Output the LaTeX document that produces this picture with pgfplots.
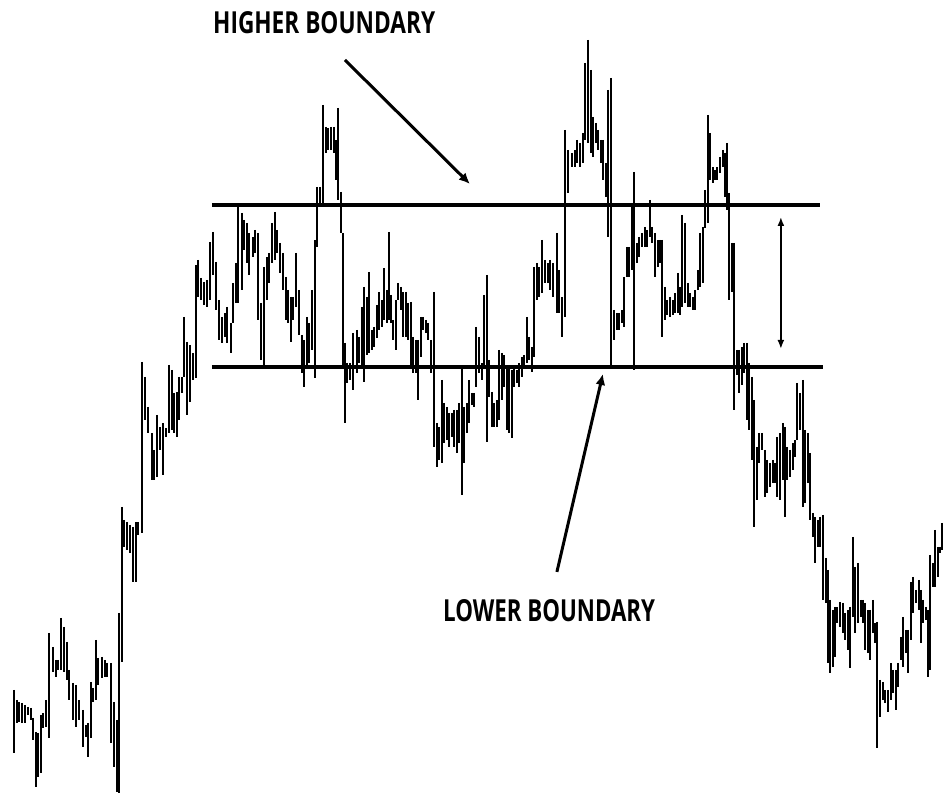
\documentclass[border=0pt]{standalone}
\usepackage{pgfplots}
\pgfplotsset{compat=1.18}
\usepackage{fontspec}
\setmainfont{Open Sans}
\usetikzlibrary{arrows.meta}
\begin{document}
\begin{tikzpicture}
\begin{axis}[width=943pt,height=793pt,scale only axis,
  xmin=0,xmax=943,ymin=0,ymax=793,y dir=reverse,hide axis,clip=false]
\path (rel axis cs:0,0) rectangle (rel axis cs:1,1);
% OHLC bars: x, high, low (pixel units, y downward)
\addplot[black,line width=2.3pt,unbounded coords=jump] coordinates {
(14,690)(14,753)(14,nan)
(17,700)(17,723)(17,nan)
(19,702)(19,722)(19,nan)
(22,703)(22,723)(22,nan)
(25,705)(25,723)(25,nan)
(28,707)(28,715)(28,nan)
(31,708)(31,720)(31,nan)
(33,718)(33,740)(33,nan)
(36,732)(36,787)(36,nan)
(38,733)(38,777)(38,nan)
(41,715)(41,773)(41,nan)
(43,713)(43,728)(43,nan)
(46,700)(46,727)(46,nan)
(49,633)(49,738)(49,nan)
(53,647)(53,672)(53,nan)
(56,660)(56,677)(56,nan)
(58,660)(58,670)(58,nan)
(61,618)(61,670)(61,nan)
(64,627)(64,672)(64,nan)
(67,642)(67,680)(67,nan)
(69,670)(69,700)(69,nan)
(73,683)(73,720)(73,nan)
(76,685)(76,727)(76,nan)
(79,700)(79,720)(79,nan)
(83,710)(83,747)(83,nan)
(86,725)(86,737)(86,nan)
(88,723)(88,757)(88,nan)
(91,682)(91,738)(91,nan)
(93,688)(93,702)(93,nan)
(96,640)(96,700)(96,nan)
(98,658)(98,685)(98,nan)
(102,657)(102,678)(102,nan)
(105,660)(105,677)(105,nan)
(107,663)(107,677)(107,nan)
(111,663)(111,743)(111,nan)
(114,702)(114,767)(114,nan)
(117,720)(117,792)(117,nan)
(119,613)(119,793)(119,nan)
(122,507)(122,662)(122,nan)
(124,520)(124,547)(124,nan)
(127,522)(127,550)(127,nan)
(130,525)(130,553)(130,nan)
(133,527)(133,582)(133,nan)
(136,522)(136,582)(136,nan)
(138,522)(138,535)(138,nan)
(142,362)(142,533)(142,nan)
(145,377)(145,420)(145,nan)
(148,407)(148,433)(148,nan)
(152,433)(152,480)(152,nan)
(154,450)(154,480)(154,nan)
(157,415)(157,477)(157,nan)
(160,427)(160,450)(160,nan)
(163,423)(163,475)(163,nan)
(166,428)(166,437)(166,nan)
(169,365)(169,433)(169,nan)
(172,370)(172,430)(172,nan)
(174,393)(174,433)(174,nan)
(177,392)(177,437)(177,nan)
(179,377)(179,420)(179,nan)
(182,377)(182,393)(182,nan)
(184,317)(184,377)(184,nan)
(187,342)(187,415)(187,nan)
(190,345)(190,402)(190,nan)
(193,353)(193,380)(193,nan)
(196,265)(196,378)(196,nan)
(198,260)(198,297)(198,nan)
(201,278)(201,300)(201,nan)
(204,282)(204,305)(204,nan)
(207,280)(207,307)(207,nan)
(210,242)(210,300)(210,nan)
(213,232)(213,275)(213,nan)
(216,262)(216,310)(216,nan)
(219,300)(219,340)(219,nan)
(222,317)(222,343)(222,nan)
(225,313)(225,337)(225,nan)
(227,307)(227,343)(227,nan)
(231,323)(231,353)(231,nan)
(233,283)(233,323)(233,nan)
(236,263)(236,303)(236,nan)
(238,205)(238,303)(238,nan)
(242,213)(242,290)(242,nan)
(244,220)(244,250)(244,nan)
(247,223)(247,263)(247,nan)
(249,233)(249,275)(249,nan)
(253,237)(253,257)(253,nan)
(255,230)(255,253)(255,nan)
(258,233)(258,320)(258,nan)
(261,303)(261,360)(261,nan)
(264,267)(264,367)(264,nan)
(267,257)(267,300)(267,nan)
(269,253)(269,283)(269,nan)
(272,223)(272,263)(272,nan)
(275,212)(275,260)(275,nan)
(277,230)(277,253)(277,nan)
(280,243)(280,273)(280,nan)
(283,253)(283,290)(283,nan)
(286,277)(286,320)(286,nan)
(288,290)(288,323)(288,nan)
(291,297)(291,342)(291,nan)
(293,297)(293,320)(293,nan)
(296,253)(296,307)(296,nan)
(299,290)(299,335)(299,nan)
(302,335)(302,373)(302,nan)
(304,340)(304,387)(304,nan)
(307,317)(307,367)(307,nan)
(309,323)(309,363)(309,nan)
(312,290)(312,350)(312,nan)
(315,240)(315,378)(315,nan)
(317,187)(317,247)(317,nan)
(320,187)(320,205)(320,nan)
(323,105)(323,203)(323,nan)
(326,127)(326,153)(326,nan)
(328,128)(328,150)(328,nan)
(331,127)(331,150)(331,nan)
(334,127)(334,153)(334,nan)
(336,140)(336,180)(336,nan)
(338,108)(338,200)(338,nan)
(341,192)(341,233)(341,nan)
(343,233)(343,365)(343,nan)
(345,343)(345,423)(345,nan)
(347,363)(347,383)(347,nan)
(350,363)(350,380)(350,nan)
(353,333)(353,390)(353,nan)
(357,330)(357,373)(357,nan)
(359,337)(359,363)(359,nan)
(362,307)(362,367)(362,nan)
(364,287)(364,382)(364,nan)
(367,297)(367,355)(367,nan)
(369,272)(369,353)(369,nan)
(372,330)(372,350)(372,nan)
(374,327)(374,347)(374,nan)
(377,305)(377,338)(377,nan)
(379,292)(379,330)(379,nan)
(382,300)(382,327)(382,nan)
(384,268)(384,320)(384,nan)
(387,290)(387,323)(387,nan)
(389,232)(389,320)(389,nan)
(391,295)(391,323)(391,nan)
(393,320)(393,340)(393,nan)
(396,300)(396,350)(396,nan)
(398,283)(398,300)(398,nan)
(401,287)(401,310)(401,nan)
(403,292)(403,337)(403,nan)
(406,292)(406,337)(406,nan)
(408,303)(408,340)(408,nan)
(411,302)(411,367)(411,nan)
(413,337)(413,373)(413,nan)
(416,340)(416,373)(416,nan)
(418,340)(418,400)(418,nan)
(421,317)(421,357)(421,nan)
(423,317)(423,330)(423,nan)
(426,320)(426,333)(426,nan)
(428,323)(428,340)(428,nan)
(431,340)(431,373)(431,nan)
(434,292)(434,447)(434,nan)
(437,423)(437,467)(437,nan)
(439,427)(439,460)(439,nan)
(442,380)(442,463)(442,nan)
(444,403)(444,443)(444,nan)
(447,407)(447,440)(447,nan)
(449,413)(449,447)(449,nan)
(452,413)(452,437)(452,nan)
(454,410)(454,447)(454,nan)
(457,410)(457,453)(457,nan)
(459,403)(459,443)(459,nan)
(462,368)(462,495)(462,nan)
(464,407)(464,463)(464,nan)
(467,403)(467,433)(467,nan)
(469,380)(469,423)(469,nan)
(472,393)(472,405)(472,nan)
(474,393)(474,407)(474,nan)
(476,327)(476,387)(476,nan)
(479,337)(479,373)(479,nan)
(482,363)(482,380)(482,nan)
(484,295)(484,367)(484,nan)
(487,275)(487,442)(487,nan)
(489,360)(489,397)(489,nan)
(492,392)(492,427)(492,nan)
(494,403)(494,427)(494,nan)
(497,400)(497,427)(497,nan)
(499,350)(499,420)(499,nan)
(502,353)(502,400)(502,nan)
(504,355)(504,387)(504,nan)
(507,367)(507,430)(507,nan)
(509,367)(509,433)(509,nan)
(512,370)(512,438)(512,nan)
(514,367)(514,387)(514,nan)
(517,370)(517,383)(517,nan)
(519,363)(519,387)(519,nan)
(522,357)(522,377)(522,nan)
(524,355)(524,367)(524,nan)
(527,317)(527,363)(527,nan)
(529,337)(529,360)(529,nan)
(532,347)(532,372)(532,nan)
(534,267)(534,357)(534,nan)
(537,263)(537,300)(537,nan)
(539,267)(539,297)(539,nan)
(542,240)(542,293)(542,nan)
(545,260)(545,283)(545,nan)
(548,263)(548,283)(548,nan)
(550,260)(550,290)(550,nan)
(553,263)(553,297)(553,nan)
(557,233)(557,313)(557,nan)
(559,270)(559,313)(559,nan)
(562,297)(562,337)(562,nan)
(565,130)(565,317)(565,nan)
(568,150)(568,193)(568,nan)
(572,153)(572,167)(572,nan)
(575,150)(575,167)(575,nan)
(577,140)(577,163)(577,nan)
(580,143)(580,167)(580,nan)
(583,133)(583,163)(583,nan)
(585,63)(585,140)(585,nan)
(588,40)(588,143)(588,nan)
(591,70)(591,153)(591,nan)
(593,117)(593,157)(593,nan)
(596,123)(596,143)(596,nan)
(598,130)(598,150)(598,nan)
(601,140)(601,163)(601,nan)
(603,140)(603,180)(603,nan)
(606,163)(606,197)(606,nan)
(608,90)(608,237)(608,nan)
(611,78)(611,367)(611,nan)
(614,310)(614,340)(614,nan)
(617,313)(617,330)(617,nan)
(619,313)(619,330)(619,nan)
(622,310)(622,323)(622,nan)
(624,277)(624,327)(624,nan)
(627,247)(627,277)(627,nan)
(629,247)(629,277)(629,nan)
(632,207)(632,270)(632,nan)
(634,172)(634,370)(634,nan)
(637,243)(637,263)(637,nan)
(639,237)(639,257)(639,nan)
(642,233)(642,247)(642,nan)
(645,227)(645,247)(645,nan)
(647,230)(647,247)(647,nan)
(650,200)(650,237)(650,nan)
(652,227)(652,243)(652,nan)
(655,233)(655,277)(655,nan)
(658,240)(658,267)(658,nan)
(660,240)(660,263)(660,nan)
(662,240)(662,337)(662,nan)
(665,287)(665,320)(665,nan)
(667,300)(667,315)(667,nan)
(670,297)(670,317)(670,nan)
(673,300)(673,315)(673,nan)
(675,293)(675,313)(675,nan)
(678,273)(678,313)(678,nan)
(680,287)(680,315)(680,nan)
(682,215)(682,307)(682,nan)
(685,223)(685,303)(685,nan)
(688,283)(688,307)(688,nan)
(690,293)(690,307)(690,nan)
(693,297)(693,310)(693,nan)
(695,290)(695,310)(695,nan)
(698,270)(698,290)(698,nan)
(700,233)(700,287)(700,nan)
(703,227)(703,283)(703,nan)
(705,190)(705,228)(705,nan)
(708,115)(708,223)(708,nan)
(710,133)(710,180)(710,nan)
(713,167)(713,183)(713,nan)
(715,170)(715,180)(715,nan)
(717,167)(717,180)(717,nan)
(720,157)(720,173)(720,nan)
(723,150)(723,167)(723,nan)
(725,153)(725,197)(725,nan)
(727,143)(727,210)(727,nan)
(729,193)(729,300)(729,nan)
(732,243)(732,292)(732,nan)
(734,243)(734,410)(734,nan)
(737,350)(737,375)(737,nan)
(739,350)(739,393)(739,nan)
(742,347)(742,385)(742,nan)
(744,343)(744,373)(744,nan)
(747,343)(747,420)(747,nan)
(749,363)(749,430)(749,nan)
(752,377)(752,460)(752,nan)
(754,400)(754,527)(754,nan)
(757,447)(757,500)(757,nan)
(759,433)(759,463)(759,nan)
(762,433)(762,450)(762,nan)
(765,450)(765,497)(765,nan)
(767,460)(767,493)(767,nan)
(770,463)(770,487)(770,nan)
(773,460)(773,483)(773,nan)
(775,463)(775,483)(775,nan)
(777,437)(777,497)(777,nan)
(780,433)(780,500)(780,nan)
(783,423)(783,480)(783,nan)
(785,427)(785,517)(785,nan)
(787,447)(787,480)(787,nan)
(790,450)(790,477)(790,nan)
(793,443)(793,470)(793,nan)
(795,440)(795,457)(795,nan)
(797,383)(797,440)(797,nan)
(800,393)(800,430)(800,nan)
(803,380)(803,507)(803,nan)
(805,430)(805,503)(805,nan)
(808,433)(808,483)(808,nan)
(810,453)(810,520)(810,nan)
(813,513)(813,537)(813,nan)
(815,517)(815,563)(815,nan)
(818,520)(818,547)(818,nan)
(820,517)(820,547)(820,nan)
(823,515)(823,600)(823,nan)
(826,558)(826,603)(826,nan)
(828,570)(828,663)(828,nan)
(830,600)(830,673)(830,nan)
(833,610)(833,667)(833,nan)
(835,607)(835,657)(835,nan)
(837,607)(837,623)(837,nan)
(840,602)(840,627)(840,nan)
(843,603)(843,633)(843,nan)
(845,613)(845,640)(845,nan)
(848,610)(848,650)(848,nan)
(850,607)(850,668)(850,nan)
(853,537)(853,617)(853,nan)
(855,567)(855,633)(855,nan)
(858,563)(858,623)(858,nan)
(861,600)(861,617)(861,nan)
(863,600)(863,623)(863,nan)
(865,603)(865,650)(865,nan)
(868,610)(868,653)(868,nan)
(870,610)(870,660)(870,nan)
(873,600)(873,633)(873,nan)
(875,623)(875,643)(875,nan)
(877,622)(877,748)(877,nan)
(880,680)(880,717)(880,nan)
(883,682)(883,700)(883,nan)
(885,690)(885,703)(885,nan)
(888,690)(888,712)(888,nan)
(891,663)(891,700)(891,nan)
(893,670)(893,693)(893,nan)
(896,670)(896,710)(896,nan)
(898,663)(898,687)(898,nan)
(901,637)(901,660)(901,nan)
(903,617)(903,667)(903,nan)
(906,630)(906,653)(906,nan)
(908,630)(908,673)(908,nan)
(911,582)(911,640)(911,nan)
(913,577)(913,613)(913,nan)
(916,590)(916,603)(916,nan)
(919,580)(919,610)(919,nan)
(921,590)(921,643)(921,nan)
(923,600)(923,623)(923,nan)
(926,607)(926,620)(926,nan)
(928,610)(928,677)(928,nan)
(930,555)(930,670)(930,nan)
(933,563)(933,587)(933,nan)
(935,530)(935,587)(935,nan)
(938,547)(938,577)(938,nan)
(940,547)(940,553)(940,nan)
(942,523)(942,550)(942,nan)
};
% boundaries
\addplot[black,line width=4.2pt] coordinates {(212,205)(820,205)};
\addplot[black,line width=4.2pt] coordinates {(212,367)(823,367)};
% annotations
\draw[black,line width=3pt,-{Latex[length=11pt,width=10pt]}] (axis cs:345,60) -- (axis cs:470,184);
\draw[black,line width=3pt,-{Latex[length=11pt,width=10pt]}] (axis cs:557,572) -- (axis cs:603,374);
\draw[black,line width=1.8pt,{Latex[length=9pt,width=7pt]}-{Latex[length=9pt,width=7pt]}] (axis cs:781,217) -- (axis cs:781,349);
\node[anchor=base west,inner sep=0pt] at (axis cs:213,34) {\resizebox{222pt}{22pt}{\bfseries HIGHER BOUNDARY}};
\node[anchor=base west,inner sep=0pt] at (axis cs:443,622) {\resizebox{212pt}{22pt}{\bfseries LOWER BOUNDARY}};
\end{axis}
\end{tikzpicture}
\end{document}
